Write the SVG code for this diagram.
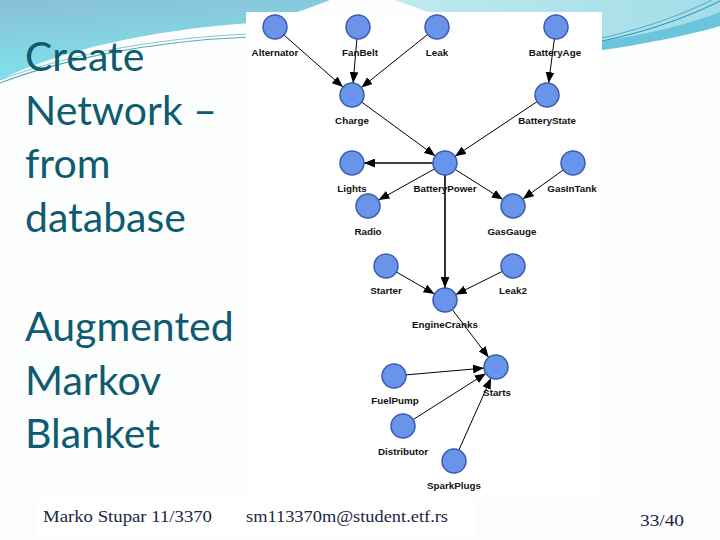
<svg xmlns="http://www.w3.org/2000/svg" width="720" height="540" viewBox="0 0 720 540">
<defs>
<linearGradient id="gL" x1="0" y1="0" x2="0.3" y2="1">
<stop offset="0" stop-color="#89bfd6"/>
<stop offset="1" stop-color="#7fe4ee"/>
</linearGradient>
<linearGradient id="gR" x1="0" y1="0" x2="1" y2="0">
<stop offset="0" stop-color="#bfe9ef"/>
<stop offset="1" stop-color="#a3dde8"/>
</linearGradient>
<marker id="ah" viewBox="0 0 10 8" refX="10" refY="4" markerWidth="11" markerHeight="9" markerUnits="userSpaceOnUse" orient="auto">
<path d="M0,0 L10,4 L0,8 Z" fill="#000"/>
</marker>
<style>
.title{font-family:Lato,"Open Sans",sans-serif;font-size:41px;fill:#0f5b6f}
.foot{font-family:"Liberation Serif",serif;font-size:17px;fill:#1b2745}
.n circle{fill:#6a93ea;stroke:#3b5bb5;stroke-width:1.5}
.n text{font-family:"Liberation Sans",Arial,sans-serif;font-size:9.8px;font-weight:bold;fill:#111;text-anchor:middle}
.e line{stroke:#000;stroke-width:1;marker-end:url(#ah)}
.e line.t{stroke-width:1.6}
</style>
</defs>
<g id="background">
<rect width="720" height="540" fill="#fcfdfd"/>
<path d="M0,0 H330 C300,12 275,20 250,23 C150,30 60,50 0,80 Z" fill="url(#gL)"/>
<path d="M395,0 H720 V24 C680,34 640,44 602,50 C540,48 460,25 395,0 Z" fill="url(#gR)"/>
<path d="M602,50 C640,45 690,35 720,26 V12 C690,24 640,36 602,41 Z" fill="#69c4dc"/>
<path d="M602,41 C650,31 690,16 720,1" fill="none" stroke="#2e8cb8" stroke-width="1"/>
<path d="M602,38 C650,27 688,12 712,0" fill="none" stroke="#3a9cc4" stroke-width="0.8"/>
<path d="M0,83 C60,60 150,41 250,37" fill="none" stroke="#5aa9ba" stroke-width="1.1"/>
<path d="M0,80 C60,57 150,38 250,34" fill="none" stroke="#6db7c6" stroke-width="0.8"/>
<rect x="246" y="12" width="356" height="484" fill="#ffffff"/>
<rect x="36" y="497" width="440" height="40" fill="#ffffff"/>
</g>
<g id="titles">
<text class="title" x="25" y="71">Create</text>
<text class="title" x="25" y="125">Network –</text>
<text class="title" x="25" y="178">from</text>
<text class="title" x="25" y="232">database</text>
<text class="title" x="25" y="341">Augmented</text>
<text class="title" x="25" y="395">Markov</text>
<text class="title" x="25" y="448">Blanket</text>
</g>
<g id="connectors" class="e">
<line x1="284" y1="35" x2="343" y2="87.1"/>
<line x1="356.9" y1="39" x2="353.1" y2="83"/>
<line x1="427.6" y1="34.5" x2="361.4" y2="87.5"/>
<line x1="554.4" y1="38.9" x2="548.6" y2="83.1"/>
<line x1="361.7" y1="102.1" x2="435.3" y2="155.9"/>
<line x1="537" y1="101.7" x2="455" y2="156.3"/>
<line class="t" x1="433" y1="163" x2="364" y2="163"/>
<line x1="434.5" y1="168.9" x2="378.5" y2="200.1"/>
<line x1="455.1" y1="169.4" x2="502.9" y2="199.6"/>
<line x1="563.2" y1="170" x2="522.8" y2="199"/>
<line class="t" x1="445" y1="175" x2="445" y2="288"/>
<line x1="396.4" y1="272" x2="434.6" y2="294"/>
<line x1="502.3" y1="271.4" x2="455.7" y2="294.6"/>
<line x1="452.3" y1="309.6" x2="488.7" y2="357.4"/>
<line x1="406" y1="374.9" x2="484" y2="368.1"/>
<line x1="413.1" y1="419.6" x2="485.9" y2="373.4"/>
<line x1="458.9" y1="450" x2="491.1" y2="378"/>
</g>
<g id="n-alternator" class="n"><circle cx="275" cy="27" r="12"/><text x="275" y="56">Alternator</text></g>
<g id="n-fanbelt" class="n"><circle cx="358" cy="27" r="12"/><text x="360" y="56">FanBelt</text></g>
<g id="n-leak" class="n"><circle cx="437" cy="27" r="12"/><text x="437" y="56">Leak</text></g>
<g id="n-batteryage" class="n"><circle cx="556" cy="27" r="12"/><text x="555" y="56">BatteryAge</text></g>
<g id="n-charge" class="n"><circle cx="352" cy="95" r="12"/><text x="352" y="124">Charge</text></g>
<g id="n-batterystate" class="n"><circle cx="547" cy="95" r="12"/><text x="547" y="124">BatteryState</text></g>
<g id="n-batterypower" class="n"><circle cx="445" cy="163" r="12"/><text x="445" y="192">BatteryPower</text></g>
<g id="n-lights" class="n"><circle cx="352" cy="163" r="12"/><text x="352" y="192">Lights</text></g>
<g id="n-gasintank" class="n"><circle cx="573" cy="163" r="12"/><text x="572" y="192">GasInTank</text></g>
<g id="n-radio" class="n"><circle cx="368" cy="206" r="12"/><text x="368" y="235">Radio</text></g>
<g id="n-gasgauge" class="n"><circle cx="513" cy="206" r="12"/><text x="512" y="235">GasGauge</text></g>
<g id="n-starter" class="n"><circle cx="386" cy="266" r="12"/><text x="386" y="294">Starter</text></g>
<g id="n-leak2" class="n"><circle cx="513" cy="266" r="12"/><text x="513" y="294">Leak2</text></g>
<g id="n-enginecranks" class="n"><circle cx="445" cy="300" r="12"/><text x="445" y="328">EngineCranks</text></g>
<g id="n-starts" class="n"><circle cx="496" cy="367" r="12"/><text x="497" y="396">Starts</text></g>
<g id="n-fuelpump" class="n"><circle cx="394" cy="376" r="12"/><text x="395" y="404">FuelPump</text></g>
<g id="n-distributor" class="n"><circle cx="403" cy="426" r="12"/><text x="403" y="455">Distributor</text></g>
<g id="n-sparkplugs" class="n"><circle cx="454" cy="461" r="12"/><text x="454" y="489">SparkPlugs</text></g>
<g id="footer">
<text class="foot" x="43" y="522" textLength="169" lengthAdjust="spacingAndGlyphs">Marko Stupar  11/3370</text>
<text class="foot" x="246" y="522" textLength="202" lengthAdjust="spacingAndGlyphs">sm113370m@student.etf.rs</text>
<text class="foot" x="640" y="526" textLength="44" lengthAdjust="spacingAndGlyphs">33/40</text>
</g>
</svg>
